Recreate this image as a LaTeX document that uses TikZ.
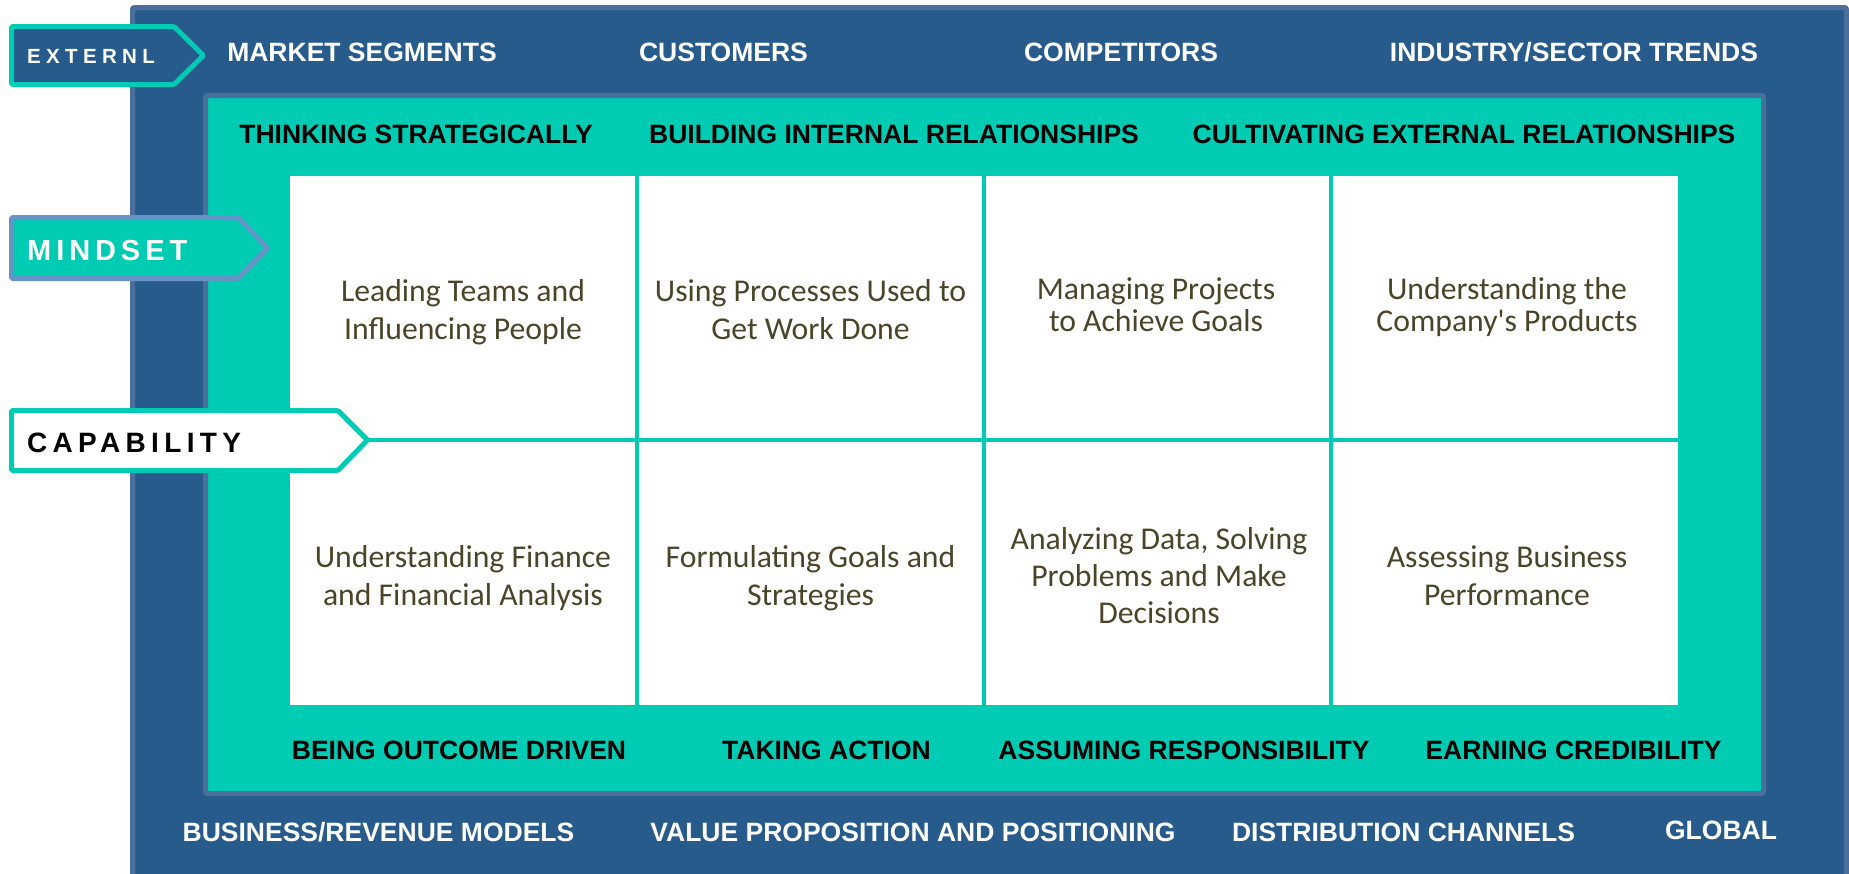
\documentclass[tikz,border=0pt]{standalone}
\usepackage{fontspec}
\setmainfont{Liberation Sans}
\newfontfamily\cellfont{Carlito}
\definecolor{navy}{HTML}{275B8C}
\definecolor{navyedge}{HTML}{4A6F9A}
\definecolor{tealc}{HTML}{00CCB4}
\definecolor{mindedge}{HTML}{6594C6}
\definecolor{celltext}{HTML}{4A4529}
\newcommand\cellblock[2]{{\cellfont\fontsize{31.7}{#1}\selectfont\setlength\tabcolsep{0pt}\begin{tabular}[t]{c}#2\end{tabular}}}
\tikzset{
  capstxt/.style={inner sep=0pt, anchor=base, font=\bfseries\fontsize{26.5}{30}\selectfont},
  wtxt/.style={capstxt, text=white},
  btxt/.style={capstxt, text=black},
  celltxt/.style={inner sep=0pt, anchor=base, text=celltext},
  gridline/.style={draw=tealc, line width=3.5pt},
  tagtxt/.style={inner sep=0pt, anchor=base west},
}
\begin{document}
\begin{tikzpicture}[x=1pt,y=-1pt]
\useasboundingbox (0,0) rectangle (1849,873);
% outer box
\draw[navyedge, fill=navy, line width=5pt, rounded corners=2pt] (132.5,7.5) rectangle (1846.5,885);
% teal box
\draw[navyedge, fill=tealc, line width=5pt, rounded corners=2pt] (205.5,95.5) rectangle (1763.5,793.5);
% white grid
\fill[white] (290,176) rectangle (1678,705);
\draw[gridline] (637,176) -- (637,705);
\draw[gridline] (984,176) -- (984,705);
\draw[gridline] (1331,176) -- (1331,705);
\draw[gridline] (290,440) -- (1678,440);
% tags
\draw[tealc, fill=navy, line width=5pt, rounded corners=1.5pt] (11.5,26.5) -- (174,26.5) -- (203.5,55.5) -- (174,84.5) -- (11.5,84.5) -- cycle;
\node[tagtxt, text=white, font=\bfseries\fontsize{20.5}{23}\selectfont\addfontfeatures{LetterSpace=26}] (ext) at (27,63) {EXTERNL};
\draw[mindedge, fill=tealc, line width=5pt, rounded corners=1.5pt] (11.5,217.5) -- (238,217.5) -- (267.5,248) -- (238,278.5) -- (11.5,278.5) -- cycle;
\node[tagtxt, text=white, font=\bfseries\fontsize{29}{32}\selectfont\addfontfeatures{LetterSpace=17}] (mind) at (27,260) {MINDSET};
\draw[tealc, fill=white, line width=5pt, rounded corners=1.5pt] (11.5,410.5) -- (338,410.5) -- (367.5,440) -- (338,470.5) -- (11.5,470.5) -- cycle;
\node[tagtxt, text=black, font=\bfseries\fontsize{28}{31}\selectfont\addfontfeatures{LetterSpace=19}] (cap) at (27,452) {CAPABILITY};
% top external labels
\node[wtxt] (t1) at (362,61.5) {MARKET SEGMENTS};
\node[wtxt] (t2) at (723.5,61.5) {CUSTOMERS};
\node[wtxt] (t3) at (1121,61.5) {COMPETITORS};
\node[wtxt] (t4) at (1574,61.5) {INDUSTRY/SECTOR TRENDS};
% teal top labels
\node[btxt] (m1) at (416,143) {THINKING STRATEGICALLY};
\node[btxt] (m2) at (894,143) {BUILDING INTERNAL RELATIONSHIPS};
\node[btxt] (m3) at (1464,143) {CULTIVATING EXTERNAL RELATIONSHIPS};
% teal bottom labels
\node[btxt] (m4) at (459,759) {BEING OUTCOME DRIVEN};
\node[btxt] (m5) at (826.5,759) {TAKING ACTION};
\node[btxt] (m6) at (1184,759) {ASSUMING RESPONSIBILITY};
\node[btxt] (m7) at (1573.5,759) {EARNING CREDIBILITY};
% bottom external labels
\node[wtxt] (b1) at (378.5,841) {BUSINESS/REVENUE MODELS};
\node[wtxt] (b2) at (913,841) {VALUE PROPOSITION AND POSITIONING};
\node[wtxt] (b3) at (1403.5,841) {DISTRIBUTION CHANNELS};
\node[wtxt] (b4) at (1721,839) {GLOBAL};
% cells
\node[celltxt] (c1) at (463,301.5) {\cellblock{37.6}{Leading Teams and\\Influencing People}};
\node[celltxt] (c2) at (810.5,301.5) {\cellblock{37.6}{Using Processes Used to\\Get Work Done}};
\node[celltxt] (c3) at (1156,299.5) {\cellblock{32}{Managing Projects\\to Achieve Goals}};
\node[celltxt] (c4) at (1507,299.5) {\cellblock{32}{Understanding the\\Company's Products}};
\node[celltxt] (c5) at (463,567.5) {\cellblock{37.6}{Understanding Finance\\and Financial Analysis}};
\node[celltxt] (c6) at (810.5,567.5) {\cellblock{37.6}{Formulating Goals and\\Strategies}};
\node[celltxt] (c7) at (1159,549) {\cellblock{37}{Analyzing Data, Solving\\Problems and Make\\Decisions}};
\node[celltxt] (c8) at (1507,567.5) {\cellblock{37.6}{Assessing Business\\Performance}};
\end{tikzpicture}
\end{document}
